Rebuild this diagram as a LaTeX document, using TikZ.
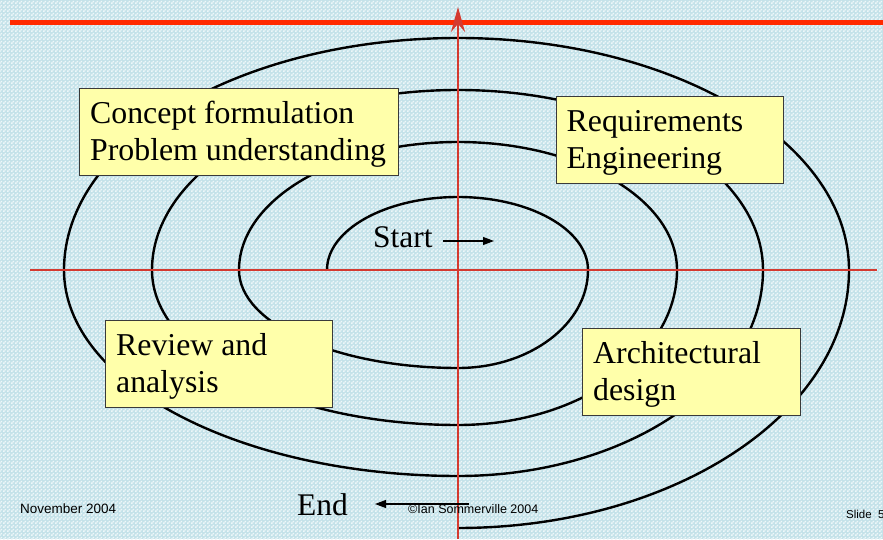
\documentclass[tikz,border=0pt]{standalone}
\usepackage{fontspec}
\setmainfont{Liberation Serif}
\newfontfamily\footerfont{Liberation Sans}
\usetikzlibrary{arrows.meta,patterns}

\definecolor{slideblue}{HTML}{C4E2E9}
\definecolor{slidelight}{HTML}{EEF7F9}
\definecolor{topred}{HTML}{FF2A00}
\definecolor{axisred}{HTML}{D43A30}
\definecolor{notefill}{HTML}{FFFFAA}
\definecolor{noteedge}{HTML}{3A3A3A}

% fine two-tone checker used for the slide background
\pgfdeclarepatternformonly{slidechecker}{\pgfqpoint{0pt}{0pt}}{\pgfqpoint{4pt}{4pt}}{\pgfqpoint{4pt}{4pt}}{%
  \pgfpathrectangle{\pgfqpoint{0pt}{0pt}}{\pgfqpoint{2pt}{2pt}}%
  \pgfpathrectangle{\pgfqpoint{2pt}{2pt}}{\pgfqpoint{2pt}{2pt}}%
  \pgfusepath{fill}}

\begin{document}
\begin{tikzpicture}[x=1pt,y=1pt,
  spiral/.style={line width=2.4pt, black, line join=round},
  axis/.style={axisred, line width=1.8pt},
  note/.style={draw=noteedge, fill=notefill, line width=1.2pt, inner sep=0pt, anchor=north west},
  notetext/.style={font=\fontsize{31.8}{37}\selectfont, align=left, inner sep=0pt, anchor=north west},
  plaintext/.style={font=\fontsize{31.5}{37}\selectfont, inner sep=0pt, anchor=base west},
  flow/.style={-{Triangle[length=11pt,width=8pt]}, line width=1.1pt},
  footer/.style={inner sep=0pt, anchor=base west}]

% page and background
\useasboundingbox (0,0) rectangle (883,539);
\fill[slideblue] (0,0) rectangle (883,539);
\fill[pattern=slidechecker, pattern color=slidelight] (0,0) rectangle (883,539);

% title rule
\coordinate (ruleL) at (10,516);
\coordinate (ruleR) at (883,516);
\draw[topred, line width=5pt] (ruleL) -- (ruleR);

% the spiral, quarter by quarter, clockwise from the start point
\coordinate (spiralStart) at (327,269);
\draw[spiral] (spiralStart)
  arc[start angle=180, end angle=90,  x radius=131pt, y radius=73pt]
  arc[start angle=90,  end angle=0,   x radius=130pt, y radius=73pt]
  arc[start angle=0,   end angle=-90, x radius=130pt, y radius=98pt]
  arc[start angle=-90, end angle=-180,x radius=219pt, y radius=98pt]
  arc[start angle=180, end angle=90,  x radius=219pt, y radius=128pt]
  arc[start angle=90,  end angle=0,   x radius=219pt, y radius=128pt]
  arc[start angle=0,   end angle=-90, x radius=219pt, y radius=155pt]
  arc[start angle=-90, end angle=-180,x radius=306pt, y radius=155pt]
  arc[start angle=180, end angle=90,  x radius=306pt, y radius=180pt]
  arc[start angle=90,  end angle=0,   x radius=305pt, y radius=180pt]
  arc[start angle=0,   end angle=-90, x radius=305pt, y radius=206pt]
  arc[start angle=-90, end angle=-180,x radius=394pt, y radius=206pt]
  arc[start angle=180, end angle=90,  x radius=394pt, y radius=232pt]
  arc[start angle=90,  end angle=0,   x radius=391pt, y radius=232pt]
  arc[start angle=0,   end angle=-90, x radius=391pt, y radius=258pt]
  coordinate (spiralEnd);

% axes
\coordinate (haxisL) at (30,269);
\coordinate (haxisR) at (877,269);
\draw[axis] (haxisL) -- (haxisR);
\coordinate (vaxisB) at (458,0);
\coordinate (vaxisT) at (458,532);
\draw[axis, -{Stealth[length=25pt,width=14pt,inset=8pt]}] (vaxisB) -- (vaxisT);

% phase notes
\node (concept) [note, minimum width=319pt, minimum height=87pt] at (79,451) {};
\node (conceptText) [notetext] at ([xshift=11pt,yshift=-9.6pt]concept.north west)
  {\strut Concept formulation\\\strut Problem understanding};

\node (reqs) [note, minimum width=227pt, minimum height=87pt] at (556,443) {};
\node (reqsText) [notetext] at ([xshift=10.5pt,yshift=-9.6pt]reqs.north west)
  {\strut Requirements\\\strut Engineering};

\node (review) [note, minimum width=227pt, minimum height=87pt] at (105,219) {};
\node (reviewText) [notetext] at ([xshift=11pt,yshift=-9.6pt]review.north west)
  {\strut Review and\\\strut analysis};

\node (arch) [note, minimum width=218pt, minimum height=87pt] at (582,211) {};
\node (archText) [notetext] at ([xshift=11pt,yshift=-9.6pt]arch.north west)
  {\strut Architectural\\\strut design};

% start and end markers
\node (start) [plaintext] at (373,291) {Start};
\coordinate (startTail) at (443,298);
\coordinate (startTip) at (494,298);
\draw[flow] (startTail) -- (startTip);

\node (finish) [plaintext] at (297,24) {End};
\coordinate (endTail) at (469,35);
\coordinate (endTip) at (375,35);
\draw[flow] (endTail) -- (endTip);

% footer
\node (date) [footer, font=\footerfont\fontsize{13.5}{16}\selectfont] at (20,26) {November 2004};
\node (copyright) [footer, font=\footerfont\fontsize{12.5}{15}\selectfont] at (408,26) {©Ian Sommerville 2004};
\node (slideNo) [footer, font=\footerfont\fontsize{11.5}{14}\selectfont] at (846,21) {Slide\ \ 5};
\end{tikzpicture}
\end{document}
